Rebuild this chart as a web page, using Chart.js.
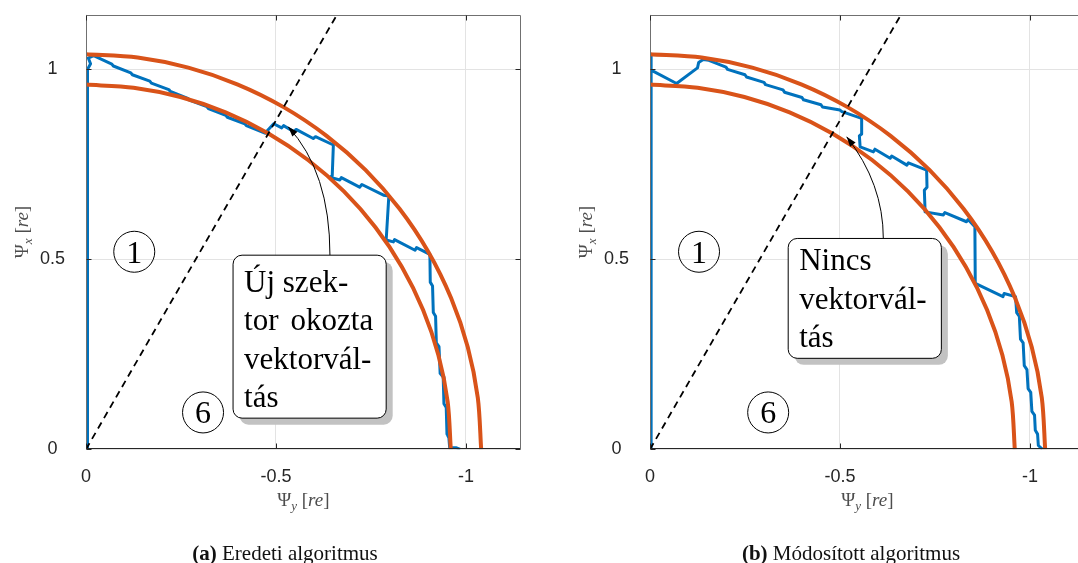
<!DOCTYPE html>
<html>
<head>
<meta charset="utf-8">
<script src="https://cdn.jsdelivr.net/npm/chart.js"></script>
<style>
html, body { margin:0; padding:0; background:#fff; overflow:hidden; width:1078px; height:563px; }
canvas { position:absolute; top:0; }
#chartA { left:0; }
#chartB { left:540px; }
.cap { position:absolute; top:541px; width:400px; text-align:center; white-space:nowrap;
       font:21px "Liberation Serif", "Times New Roman", serif; color:#111; }
</style>
</head>
<body>
<canvas id="chartA" width="540" height="563"></canvas>
<canvas id="chartB" width="560" height="563"></canvas>
<div class="cap" style="left:85px"><b>(a)</b> Eredeti algoritmus</div>
<div class="cap" style="left:651px"><b>(b)</b> Módosított algoritmus</div>
<script>
'use strict'

// tick values
var xTicks = [0, -0.5, -1]
var yTicks = [0, 0.5, 1]
var axisMax = 1.144

// hysteresis band limits (r = 0.96 and r = 1.04)
var innerArc = [[0,0.96],[-0.1253,0.9518],[-0.2485,0.9273],[-0.3674,0.8869],[-0.48,0.8314],[-0.5844,0.7616],
  [-0.6788,0.6788],[-0.7616,0.5844],[-0.8314,0.48],[-0.8869,0.3674],[-0.9273,0.2485],[-0.9518,0.1253],[-0.96,0]]
var outerArc = [[0,1.04],[-0.1358,1.0311],[-0.2692,1.0046],[-0.398,0.9608],[-0.52,0.9007],[-0.6331,0.8251],
  [-0.7354,0.7354],[-0.8251,0.6331],[-0.9007,0.52],[-0.9608,0.398],[-1.0046,0.2692],[-1.0311,0.1358],[-1.04,0]]

// sector border (dashed)
var sectorLine = [[0,0],[-0.7,1.2124]]

// flux trajectory, original algorithm
var trajA = [[-0.004,0],[-0.004,1.0],[-0.012,1.015],[-0.006,1.03],[-0.02,1.036],
  [-0.068,1.014],[-0.072,1.009],[-0.118,0.991],[-0.122,0.986],[-0.168,0.969],[-0.172,0.964],[-0.218,0.947],
  [-0.222,0.942],[-0.268,0.924],[-0.272,0.919],[-0.318,0.902],[-0.322,0.897],[-0.368,0.879],[-0.372,0.874],
  [-0.418,0.857],[-0.422,0.852],[-0.471,0.832],
  [-0.494,0.857],[-0.515,0.846],[-0.52,0.852],[-0.547,0.836],[-0.553,0.842],[-0.598,0.818],[-0.604,0.823],
  [-0.651,0.801],[-0.648,0.72],[-0.642,0.716],[-0.668,0.709],[-0.672,0.715],[-0.72,0.69],[-0.726,0.697],
  [-0.783,0.669],[-0.797,0.667],[-0.79,0.551],[-0.809,0.546],[-0.812,0.552],[-0.866,0.524],[-0.87,0.531],
  [-0.905,0.513],
  [-0.906,0.44],[-0.912,0.43],[-0.914,0.36],[-0.92,0.35],[-0.922,0.28],[-0.929,0.27],[-0.932,0.2],[-0.94,0.19],
  [-0.942,0.12],[-0.948,0.11],[-0.95,0.04],[-0.955,0.03],[-0.957,0.005],[-0.975,0.004],[-0.985,0]]

// flux trajectory, modified algorithm
var trajB = [[-0.003,0],[-0.003,1.04],[-0.003,0.998],[-0.07,0.963],[-0.125,1.004],[-0.128,1.018],[-0.14,1.026],
  [-0.155,1.024],[-0.2,1.006],[-0.204,1.0],[-0.25,0.986],[-0.254,0.98],[-0.3,0.966],[-0.304,0.96],[-0.35,0.946],
  [-0.354,0.94],[-0.4,0.926],[-0.404,0.92],[-0.45,0.907],[-0.454,0.901],[-0.5,0.893],[-0.505,0.889],[-0.557,0.871],
  [-0.557,0.83],[-0.551,0.825],[-0.553,0.796],[-0.588,0.783],[-0.592,0.79],[-0.632,0.766],[-0.636,0.772],
  [-0.676,0.748],[-0.68,0.754],[-0.728,0.735],
  [-0.729,0.69],[-0.722,0.682],[-0.724,0.625],[-0.772,0.617],[-0.776,0.623],[-0.833,0.599],[-0.837,0.605],
  [-0.855,0.586],[-0.856,0.437],[-0.929,0.402],[-0.932,0.41],[-0.962,0.402],
  [-0.965,0.36],[-0.972,0.35],[-0.975,0.29],[-0.982,0.28],[-0.985,0.22],[-0.992,0.21],[-0.995,0.16],
  [-1.002,0.15],[-1.005,0.1],[-1.012,0.09],[-1.014,0.05],[-1.02,0.04],[-1.022,0.01],[-1.033,0]]

// annotations (data units)
var noteA = {
  circles: [{t:'1', x:-0.127, y:0.52}, {t:'6', x:-0.308, y:0.097}],
  box: {x1:-0.387, x2:-0.79, y1:0.511, y2:0.082, first:36.7},
  lines: [{t:'Új szek-'}, {t:'tor okozta', j:true}, {t:'vektorvál-'}, {t:'tás'}],
  arrow: {from:[-0.642,0.511], ctrl:[-0.642,0.73], to:[-0.532,0.849]}
}
var noteB = {
  circles: [{t:'1', x:-0.129, y:0.52}, {t:'6', x:-0.311, y:0.097}],
  box: {x1:-0.3637, x2:-0.7668, y1:0.555, y2:0.2395, first:31.7},
  lines: [{t:'Nincs'}, {t:'vektorvál-'}, {t:'tás'}],
  arrow: {from:[-0.614,0.555], ctrl:[-0.614,0.6995], to:[-0.5176,0.8226]}
}

var blue = '#0072BD'
var orange = '#D95319'
var serif = '"Liberation Serif", "Times New Roman", serif'
var sans = '"Liberation Sans", Arial, sans-serif'

function toPts(arr) {
  return arr.map(function (p) { return {x: p[0], y: p[1]} })
}

function drawMath(ctx, parts, cx, cy) {
  // parts: [text, italic, subscript]
  var w = 0
  parts.forEach(function (p) {
    ctx.font = (p[1] ? 'italic ' : '') + (p[2] ? '13px ' : '19px ') + serif
    p.w = ctx.measureText(p[0]).width
    w += p.w
  })
  var x = cx - w / 2
  ctx.textAlign = 'left'
  ctx.textBaseline = 'alphabetic'
  parts.forEach(function (p) {
    ctx.font = (p[1] ? 'italic ' : '') + (p[2] ? '13px ' : '19px ') + serif
    ctx.fillText(p[0], x, cy + (p[2] ? 4 : 0))
    x += p.w
  })
}

function roundRect(ctx, x, y, w, h, r) {
  ctx.beginPath()
  ctx.moveTo(x + r, y)
  ctx.arcTo(x + w, y, x + w, y + h, r)
  ctx.arcTo(x + w, y + h, x, y + h, r)
  ctx.arcTo(x, y + h, x, y, r)
  ctx.arcTo(x, y, x + w, y, r)
  ctx.closePath()
}

var frame = {
  id: 'frame',
  afterDatasetsDraw: function (chart) {
    var ctx = chart.ctx, a = chart.chartArea, sx = chart.scales.x, sy = chart.scales.y
    var L = Math.round(a.left) + 0.5, R = Math.round(a.right) - 0.5
    var T = Math.round(a.top) + 0.5, B = Math.round(a.bottom) - 0.5
    ctx.save()
    ctx.lineWidth = 1
    ctx.strokeStyle = '#707070'
    ctx.beginPath()
    ctx.moveTo(L, B); ctx.lineTo(L, T); ctx.lineTo(R, T); ctx.lineTo(R, B)
    ctx.stroke()
    ctx.strokeStyle = '#262626'
    ctx.beginPath()
    ctx.moveTo(L, B); ctx.lineTo(R, B)
    xTicks.forEach(function (v) {
      var px = Math.round(sx.getPixelForValue(v)) + 0.5
      ctx.moveTo(px, B); ctx.lineTo(px, B - 5)
      ctx.moveTo(px, T); ctx.lineTo(px, T + 5)
    })
    yTicks.forEach(function (v) {
      var py = Math.round(sy.getPixelForValue(v)) + 0.5
      ctx.moveTo(L, py); ctx.lineTo(L + 5, py)
      ctx.moveTo(R, py); ctx.lineTo(R - 5, py)
    })
    ctx.stroke()
    ctx.restore()
  },
  afterDraw: function (chart) {
    var ctx = chart.ctx, a = chart.chartArea, sx = chart.scales.x, sy = chart.scales.y
    var note = chart.options.plugins.frame.note
    ctx.save()

    // axis titles
    ctx.fillStyle = '#4d4d4d'
    drawMath(ctx, [['Ψ'], ['y', true, true], [' ['], ['re', true], [']']], (a.left + a.right) / 2, 506)
    ctx.save()
    ctx.translate(a.left - 64, (a.top + a.bottom) / 2)
    ctx.rotate(-Math.PI / 2)
    drawMath(ctx, [['Ψ'], ['x', true, true], [' ['], ['re', true], [']']], 0, 6)
    ctx.restore()

    // circled sector numbers
    ctx.strokeStyle = '#000'
    ctx.fillStyle = '#000'
    ctx.lineWidth = 1
    note.circles.forEach(function (c) {
      var px = sx.getPixelForValue(c.x), py = sy.getPixelForValue(c.y)
      ctx.beginPath()
      ctx.arc(px, py, 20.5, 0, Math.PI * 2)
      ctx.stroke()
      ctx.font = '32px ' + serif
      ctx.textAlign = 'center'
      ctx.textBaseline = 'alphabetic'
      ctx.fillText(c.t, px, py + 11)
    })

    // arrow
    var ar = note.arrow
    var p0 = [sx.getPixelForValue(ar.from[0]), sy.getPixelForValue(ar.from[1])]
    var p1 = [sx.getPixelForValue(ar.ctrl[0]), sy.getPixelForValue(ar.ctrl[1])]
    var p2 = [sx.getPixelForValue(ar.to[0]), sy.getPixelForValue(ar.to[1])]
    ctx.beginPath()
    ctx.moveTo(p0[0], p0[1])
    ctx.quadraticCurveTo(p1[0], p1[1], p2[0], p2[1])
    ctx.stroke()
    var ang = Math.atan2(p2[1] - p1[1], p2[0] - p1[0])
    ctx.beginPath()
    ctx.moveTo(p2[0], p2[1])
    ctx.lineTo(p2[0] - 10 * Math.cos(ang) + 3.5 * Math.sin(ang), p2[1] - 10 * Math.sin(ang) - 3.5 * Math.cos(ang))
    ctx.lineTo(p2[0] - 10 * Math.cos(ang) - 3.5 * Math.sin(ang), p2[1] - 10 * Math.sin(ang) + 3.5 * Math.cos(ang))
    ctx.closePath()
    ctx.fill()

    // text box with shadow
    var b = note.box
    var bx = sx.getPixelForValue(b.x1), bx2 = sx.getPixelForValue(b.x2)
    var by = sy.getPixelForValue(b.y1), by2 = sy.getPixelForValue(b.y2)
    var bw = bx2 - bx, bh = by2 - by
    ctx.fillStyle = '#c2c2c2'
    roundRect(ctx, bx + 6.5, by + 6.5, bw, bh, 9)
    ctx.fill()
    ctx.fillStyle = '#fff'
    roundRect(ctx, bx, by, bw, bh, 9)
    ctx.fill()
    ctx.strokeStyle = '#000'
    ctx.stroke()

    ctx.fillStyle = '#000'
    ctx.font = '31px ' + serif
    ctx.textAlign = 'left'
    ctx.textBaseline = 'alphabetic'
    note.lines.forEach(function (ln, i) {
      var ty = by + b.first + i * 38.4
      var tx = bx + 11
      var words = ln.t.split(' ')
      if (ln.j && words.length > 1) {
        var sum = 0
        words.forEach(function (w) { sum += ctx.measureText(w).width })
        var gap = (bw - 24 - sum) / (words.length - 1)
        words.forEach(function (w) {
          ctx.fillText(w, tx, ty)
          tx += ctx.measureText(w).width + gap
        })
      } else {
        ctx.fillText(ln.t, tx, ty)
      }
    })
    ctx.restore()
  }
}

function makeChart(id, traj, yAxisW, padRight, note) {
  var ctx = document.getElementById(id)
  return new Chart(ctx, {
    type: 'scatter',
    data: {
      datasets: [
        {data: toPts(sectorLine), showLine: true, borderColor: '#000', borderWidth: 1.8,
         borderDash: [7, 5], pointRadius: 0, order: 1},
        {data: toPts(innerArc), showLine: true, borderColor: orange, borderWidth: 4,
         pointRadius: 0, tension: 0.3, order: 2},
        {data: toPts(outerArc), showLine: true, borderColor: orange, borderWidth: 4,
         pointRadius: 0, tension: 0.3, order: 2},
        {data: toPts(traj), showLine: true, borderColor: blue, borderWidth: 3,
         borderJoinStyle: 'round', pointRadius: 0, order: 3}
      ]
    },
    options: {
      responsive: false,
      animation: false,
      events: [],
      layout: {padding: {top: 14.7, right: padRight, bottom: 0, left: 0}},
      plugins: {
        legend: {display: false},
        tooltip: {enabled: false},
        frame: {note: note}
      },
      scales: {
        x: {
          type: 'linear', reverse: true, min: -axisMax, max: 0,
          afterBuildTicks: function (s) { s.ticks = xTicks.map(function (v) { return {value: v} }) },
          afterFit: function (s) { s.height = 113.7; s.paddingLeft = 0; s.paddingRight = 0 },
          grid: {color: '#e3e3e3', lineWidth: 1, drawTicks: false},
          border: {display: false},
          ticks: {color: '#262626', padding: 17, font: {family: sans, size: 18},
                  callback: function (v) { return String(v) }}
        },
        y: {
          type: 'linear', min: 0, max: axisMax,
          afterBuildTicks: function (s) { s.ticks = yTicks.map(function (v) { return {value: v} }) },
          afterFit: function (s) { s.width = yAxisW; s.paddingTop = 0; s.paddingBottom = 0 },
          grid: {color: '#e3e3e3', lineWidth: 1, drawTicks: false},
          border: {display: false},
          ticks: {color: '#262626', padding: 21, crossAlign: 'center', font: {family: sans, size: 18},
                  callback: function (v) { return String(v) }}
        }
      }
    },
    plugins: [frame]
  })
}

makeChart('chartA', trajA, 86, 19.3, noteA)
makeChart('chartB', trajB, 110, 15.3, noteB)
</script>
</body>
</html>
